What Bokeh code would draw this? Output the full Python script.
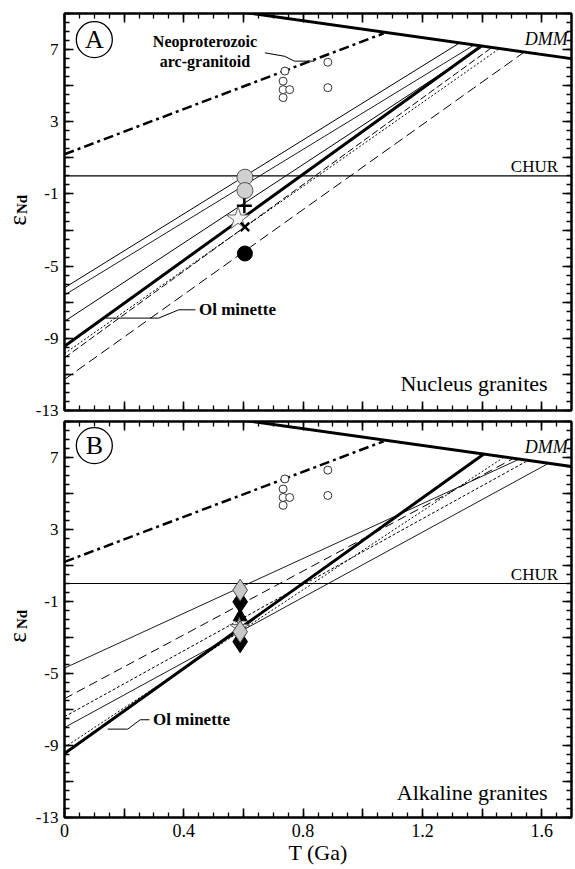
import math
from bokeh.plotting import figure
from bokeh.models import Range1d, FixedTicker, LinearAxis, Label, CustomJSTickFormatter
from bokeh.layouts import column, row
from bokeh.embed import file_html
from bokeh.resources import INLINE
from bokeh.core.properties import value

SERIF = "Liberation Serif"

# ---------------- data ----------------
x_major_ticks = [0.0, 0.2, 0.4, 0.6, 0.8, 1.0, 1.2, 1.4, 1.6]
y_major_ticks = [-13, -11, -9, -7, -5, -3, -1, 1, 3, 5, 7, 9]

# depleted mantle (DMM) evolution
dmm_t = [0.5, 1.7]
dmm_e = [9.3, 6.5]
# chondritic uniform reservoir
chur_t = [0.0, 1.7]
chur_e = [0.0, 0.0]
# Neoproterozoic arc-granitoid trend
arc_t = [0.0, 1.07]
arc_e = [1.2, 7.9]
arc_pts_t = [0.739, 0.733, 0.733, 0.755, 0.733, 0.883, 0.883]
arc_pts_e = [5.81, 5.25, 4.78, 4.78, 4.34, 6.30, 4.89]

# Panel A (nucleus granites) model lines: eNd(0) -> DMM intersection
a_e0 = [-6.2, -6.6, -8.06, -9.44, -10.08, -9.85, -11.28]
a_t1 = [1.322, 1.37, 1.40, 1.394, 1.43, 1.455, 1.538]
a_e1 = [7.34, 7.22, 7.15, 7.16, 7.08, 7.02, 6.82]

# Panel B (alkaline granites) model lines
b_e0 = [-4.7, -6.4, -7.4, -8.0, -9.1, -9.45]
b_t1 = [1.52, 1.50, 1.55, 1.62, 1.47, 1.405]
b_e1 = [6.87, 6.90, 6.80, 6.65, 6.98, 7.18]

# Panel A samples at ~0.6 Ga
a_gray_t = [0.605, 0.605]
a_gray_e = [-0.07, -0.81]
a_plus_t = [0.603]
a_plus_e = [-1.65]
a_star_t = [0.582]
a_star_e = [-2.37]
a_x_t = [0.605]
a_x_e = [-2.82]
a_black_t = [0.605]
a_black_e = [-4.30]

# Panel B samples at ~0.59 Ga
b_gdia_t = [0.589, 0.589]
b_gdia_e = [-0.37, -2.68]
b_bdia_t = [0.589, 0.589]
b_bdia_e = [-1.02, -3.23]
b_tri_t = [0.589]
b_tri_e = [-1.85]
b_star_t = [0.586]
b_star_e = [-2.45]

# ---------------- styles ----------------
a_styles = [("solid", 1.0), ("solid", 0.9), ("solid", 1.0), ("solid", 3.0),
            ("7 3", 1.0), ("2 2", 1.0), ("10 5", 1.0)]
b_styles = [("solid", 0.9), ("9 5", 1.0), ("3 2", 1.0), ("solid", 0.9),
            ("2 2", 1.0), ("solid", 3.0)]

x_fmt = CustomJSTickFormatter(code="""
const v = Math.round(tick*100);
if (v % 40 != 0) return '';
return v == 0 ? '0' : tick.toFixed(1);
""")
y_fmt = CustomJSTickFormatter(code="""
const v = Math.round(tick);
return ((v + 13) % 4 == 0) ? String(v) : '';
""")
blank_fmt = CustomJSTickFormatter(code="return '';")

x_minor = [i * 0.05 for i in range(35)]
y_minor = [-13 + i * 0.5 for i in range(45)]

LAB_W = 32
MAIN_W = 543


def style_axis(ax, labels, size="17px"):
    ax.axis_line_width = 2
    ax.axis_line_color = "black"
    ax.major_tick_in = 9
    ax.major_tick_out = 0
    ax.minor_tick_in = 5
    ax.minor_tick_out = 0
    ax.major_tick_line_width = 1.6
    ax.minor_tick_line_width = 1.3
    ax.major_tick_line_color = "black"
    ax.minor_tick_line_color = "black"
    if not labels:
        ax.major_label_text_font_size = "0px"
        ax.major_label_standoff = 0
    else:
        ax.major_label_text_font = SERIF
        ax.major_label_text_font_size = size
        ax.major_label_text_color = "black"


def make_panel(height, top, bottom, bottom_labels, yr):
    p = figure(width=MAIN_W, height=height, output_backend="svg", toolbar_location=None,
               x_range=Range1d(0, 1.7), y_range=yr,
               min_border_left=30, min_border_right=4,
               min_border_top=top, min_border_bottom=bottom,
               x_axis_location=None, y_axis_location=None)
    p.grid.visible = False
    p.outline_line_color = "black"
    p.outline_line_width = 2
    p.background_fill_color = "white"
    p.border_fill_color = "white"

    xb = LinearAxis(ticker=FixedTicker(ticks=x_major_ticks, minor_ticks=x_minor),
                    formatter=x_fmt if bottom_labels else blank_fmt)
    style_axis(xb, bottom_labels, "18px")
    if bottom_labels:
        xb.major_label_standoff = 6
        xb.axis_label = "T (Ga)"
        xb.axis_label_text_font = SERIF
        xb.axis_label_text_font_style = "normal"
        xb.axis_label_text_font_size = "22px"
        xb.axis_label_text_color = "black"
        xb.axis_label_standoff = 0
    p.add_layout(xb, "below")

    xt = LinearAxis(ticker=FixedTicker(ticks=x_major_ticks, minor_ticks=x_minor),
                    formatter=blank_fmt)
    style_axis(xt, False)
    p.add_layout(xt, "above")

    yl = LinearAxis(ticker=FixedTicker(ticks=y_major_ticks, minor_ticks=y_minor),
                    formatter=y_fmt)
    style_axis(yl, True, "17px")
    yl.major_label_standoff = 6
    p.add_layout(yl, "left")

    yrx = LinearAxis(ticker=FixedTicker(ticks=y_major_ticks, minor_ticks=y_minor),
                     formatter=blank_fmt)
    style_axis(yrx, False)
    p.add_layout(yrx, "right")

    # reference curves
    p.line(chur_t, chur_e, line_color="black", line_width=1.2)
    p.line(dmm_t, dmm_e, line_color="black", line_width=3)
    p.line(arc_t, arc_e, line_color="black", line_width=2.5, line_dash="10 4 3 4")
    p.scatter(arc_pts_t, arc_pts_e, marker="circle", size=8, fill_color="white",
              line_color="#333333", line_width=1)
    return p


def make_label_fig(height, top, bottom, yr, eps_y, nd_y):
    q = figure(width=LAB_W, height=height, output_backend="svg", toolbar_location=None,
               x_range=Range1d(0, LAB_W), y_range=yr,
               min_border_left=0, min_border_right=0,
               min_border_top=top, min_border_bottom=bottom,
               x_axis_location=None, y_axis_location=None)
    q.grid.visible = False
    q.outline_line_color = None
    q.background_fill_color = "white"
    q.border_fill_color = "white"
    q.text(x=[17], y=[eps_y], text=["ε"], angle=math.pi / 2, text_font=value(SERIF),
           text_font_size="25px", text_align="center", text_baseline="middle",
           text_color="black")
    q.text(x=[21], y=[nd_y], text=["Nd"], angle=math.pi / 2, text_font=value(SERIF),
           text_font_size="15px", text_font_style="bold", text_align="center",
           text_baseline="middle", text_color="black")
    return q


def add_text(p, x, y, text, size, style="normal", align="left", baseline="middle",
             angle=0.0):
    p.add_layout(Label(x=x, y=y, text=text, text_font=SERIF, text_font_size=size,
                       text_font_style=style, text_align=align, text_baseline=baseline,
                       text_color="black", angle=angle))


def add_common_labels(p, letter, lett_y):
    p.scatter([0.1], [lett_y], marker="circle", size=36, fill_color=None,
              line_color="black", line_width=1.3)
    add_text(p, 0.1, lett_y, letter, "26px", align="center")
    add_text(p, 1.655, 0.0, "CHUR", "17px", align="right", baseline="bottom")
    add_text(p, 1.615, 7.05, "DMM", "18px", style="italic", align="center", baseline="bottom")


# ---------------- panel A ----------------
yrA = Range1d(-13, 9)
pA = make_panel(420, 13, 10, False, yrA)
for e0, t1, e1, (dash, w) in zip(a_e0, a_t1, a_e1, a_styles):
    pA.line([0.0, t1], [e0, e1], line_color="black", line_width=w, line_dash=dash)
pA.scatter(a_gray_t, a_gray_e, marker="circle", size=16, fill_color="#d0d0d0",
           line_color="#555555", line_width=1)
pA.scatter(a_plus_t, a_plus_e, marker="cross", size=15, line_color="black", line_width=2.5)
pA.scatter(a_star_t, a_star_e, marker="star", size=24, fill_color="#f4f4f4",
           line_color="#666666", line_width=1)
pA.scatter(a_x_t, a_x_e, marker="x", size=12, line_color="black", line_width=2.5)
pA.scatter(a_black_t, a_black_e, marker="circle", size=15, fill_color="black",
           line_color="black")
add_common_labels(pA, "A", 7.55)
add_text(pA, 0.471, 7.46, "Neoproterozoic", "16px", style="bold", align="center")
add_text(pA, 0.471, 6.36, "arc-granitoid", "16px", style="bold", align="center")
pA.line([0.672, 0.738, 0.771, 0.838], [6.82, 6.63, 6.36, 6.36], line_color="black", line_width=1)
add_text(pA, 0.451, -7.42, "Ol minette", "17px", style="bold")
pA.line([0.139, 0.316, 0.383, 0.439], [-7.88, -7.88, -7.42, -7.42], line_color="black", line_width=1)
add_text(pA, 1.62, -11.5, "Nucleus granites", "22px", align="right")
labA = make_label_fig(420, 13, 10, yrA, -2.47, -1.58)

# ---------------- panel B ----------------
yrB = Range1d(-13, 9)
pB = make_panel(449, 1, 52, True, yrB)
for e0, t1, e1, (dash, w) in zip(b_e0, b_t1, b_e1, b_styles):
    pB.line([0.0, t1], [e0, e1], line_color="black", line_width=w, line_dash=dash)
pB.scatter(b_bdia_t, b_bdia_e, marker="diamond", size=22, fill_color="black",
           line_color="black")
pB.scatter(b_tri_t, b_tri_e, marker="triangle", size=14, fill_color="black",
           line_color="black")
pB.scatter(b_star_t, b_star_e, marker="star", size=20, fill_color="#e6e6e6",
           line_color="#666666", line_width=1)
pB.scatter(b_gdia_t, b_gdia_e, marker="diamond", size=22, fill_color="#c8c8c8",
           line_color="#444444", line_width=1)
add_common_labels(pB, "B", 7.66)
add_text(pB, 0.297, -7.57, "Ol minette", "17px", style="bold")
pB.line([0.145, 0.212, 0.254, 0.285], [-8.09, -8.09, -7.57, -7.57], line_color="black", line_width=1)
add_text(pB, 1.62, -11.6, "Alkaline granites", "22px", align="right")
labB = make_label_fig(449, 1, 52, yrB, -3.0, -2.0)

layout = column(row(labA, pA), row(labB, pB))
open("out.html", "w").write(file_html(layout, INLINE))
